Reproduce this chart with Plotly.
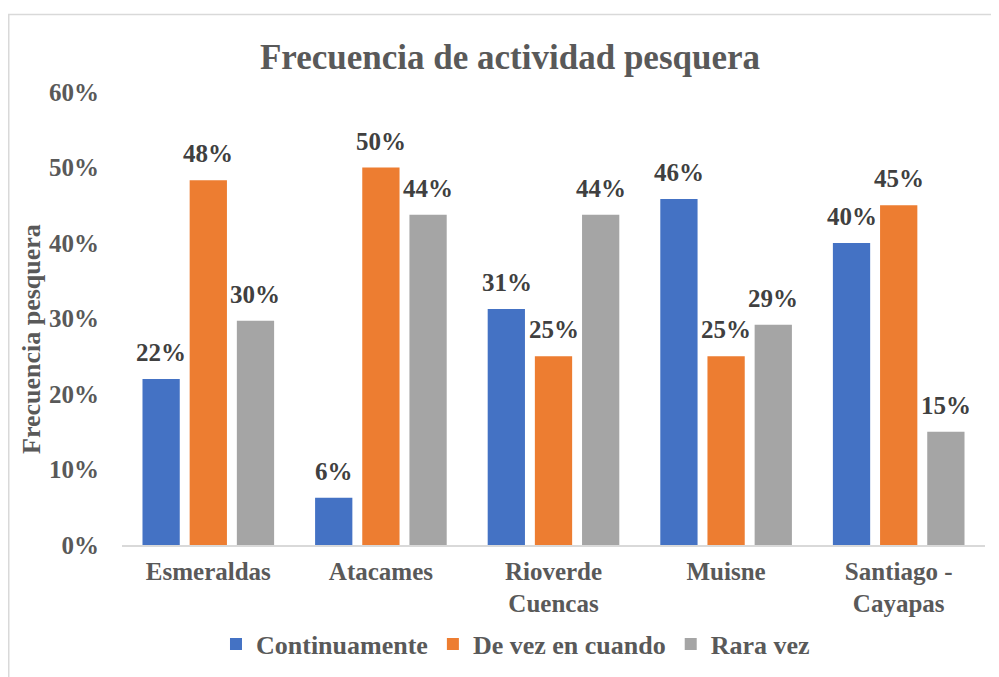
import plotly.graph_objects as go

# datos
zonas = ["Esmeraldas", "Atacames", "Rioverde<br>Cuencas", "Muisne", "Santiago -<br>Cayapas"]
continuamente = [0.22, 0.0625, 0.3125, 0.4583, 0.40]
de_vez_en_cuando = [0.483, 0.50, 0.25, 0.25, 0.45]
rara_vez = [0.297, 0.4375, 0.4375, 0.2917, 0.15]
y_ticks = [0, 0.1, 0.2, 0.3, 0.4, 0.5, 0.6]

FUENTE = "Liberation Serif, Times New Roman, serif"
GRIS_TEXTO = "#595959"

# area del grafico en px (la pagina html desplaza todo 8 px)
IZQ, DER, ARR, ABA = 114, 977, 84, 537
ANCHO, ALTO = DER - IZQ, ABA - ARR

series = [
    ("Continuamente", continuamente, "#4472C4"),
    ("De vez en cuando", de_vez_en_cuando, "#ED7D31"),
    ("Rara vez", rara_vez, "#A5A5A5"),
]

fig = go.Figure()
for i, (nombre, valores, color) in enumerate(series):
    fig.add_trace(go.Bar(
        x=zonas,
        y=valores,
        name=nombre,
        marker_color=color,
        marker_line_width=0,
    ))
    # etiquetas de datos encima de cada barra
    for zona, v in zip(zonas, valores):
        fig.add_annotation(
            x=zona, y=v,
            text=f"{v:.0%}",
            xshift=(i - 1) * 47,
            yanchor="bottom", yshift=11,
            showarrow=False,
            font=dict(family=FUENTE, size=25, color="#404040", weight="bold"),
        )

fig.update_layout(
    width=999,
    height=677,
    barmode="group",
    bargap=0.18,
    bargroupgap=0.21,
    plot_bgcolor="white",
    paper_bgcolor="white",
    margin=dict(l=IZQ, r=999 - DER, t=ARR, b=677 - ABA, autoexpand=False),
    font=dict(family=FUENTE, color=GRIS_TEXTO),
    title=dict(
        text="Frecuencia de actividad pesquera",
        x=502 / 999, xref="container", xanchor="center",
        y=1 - 49 / 677, yref="container", yanchor="middle",
        font=dict(family=FUENTE, size=35, color=GRIS_TEXTO, weight="bold"),
    ),
    showlegend=True,
    legend=dict(
        orientation="h",
        x=0.508, xref="container", xanchor="center",
        y=1 - 636 / 677, yref="container", yanchor="middle",
        font=dict(family=FUENTE, size=26, color=GRIS_TEXTO, weight="bold"),
        itemwidth=30,
    ),
)

fig.update_xaxes(
    automargin=False,
    showline=True,
    linecolor="#D9D9D9",
    linewidth=1.5,
    showgrid=False,
    ticks="",
    ticklabelstandoff=3,
    tickfont=dict(family=FUENTE, size=25, color=GRIS_TEXTO, weight="bold"),
)

fig.update_yaxes(
    automargin=False,
    range=[0, 0.6],
    tickvals=y_ticks,
    tickformat=".0%",
    showgrid=False,
    showline=False,
    zeroline=False,
    ticks="",
    ticklabelstandoff=22,
    tickfont=dict(family=FUENTE, size=25, color=GRIS_TEXTO, weight="bold"),
)

# titulo del eje y
fig.add_annotation(
    text="Frecuencia pesquera",
    xref="paper", yref="paper",
    x=(23 - IZQ) / ANCHO, y=(ABA - 331) / ALTO,
    xanchor="center", yanchor="middle",
    textangle=-90,
    showarrow=False,
    font=dict(family=FUENTE, size=26, color=GRIS_TEXTO, weight="bold"),
)

# borde del area del grafico
fig.add_shape(
    type="rect",
    xref="paper", yref="paper",
    x0=(0.75 - IZQ) / ANCHO, x1=(1010 - IZQ) / ANCHO,
    y0=(ABA - 700) / ALTO, y1=(ABA - 6.5) / ALTO,
    line=dict(color="#D9D9D9", width=1.5),
    fillcolor="rgba(0,0,0,0)",
    layer="below",
)

fig.write_html("out.html")
